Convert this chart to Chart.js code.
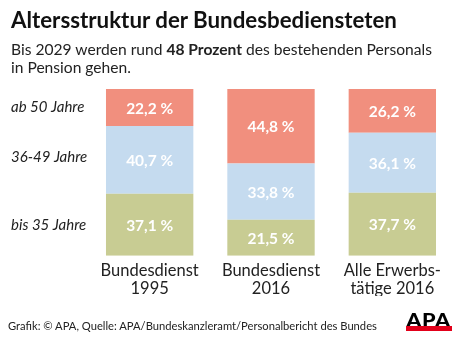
<!DOCTYPE html>
<html>
<head>
<meta charset="utf-8">
<script src="https://cdn.jsdelivr.net/npm/chart.js@4/dist/chart.umd.min.js"></script>
<style>
  body { margin: 0; background: #fff; font-family: Lato, "Open Sans", sans-serif; }
  #wrap { position: relative; width: 460px; height: 340px; overflow: hidden; }
  #chart { position: absolute; left: 0; top: 0; }
  .title { position: absolute; left: 11px; top: 6px; font-size: 22.3px; font-weight: bold; color: #111; white-space: nowrap; }
  .sub { position: absolute; left: 11px; top: 40px; font-size: 15.6px; line-height: 18px; color: #222; }
  .foot { position: absolute; left: 8px; top: 319px; font-size: 11.2px; color: #222; white-space: nowrap; }
  .logo { position: absolute; left: 406px; top: 311px; width: 46px; height: 15px; overflow: hidden; text-align: center; font-size: 18px; font-weight: 900; line-height: 18px; color: #000; letter-spacing: 0.5px; border-bottom: 5px solid #e2001a; }
  .logo span { display: inline-block; transform: scaleX(1.2); }
</style>
</head>
<body>
<div id="wrap">
  <canvas id="chart" width="460" height="340"></canvas>
  <div class="title">Altersstruktur der Bundesbediensteten</div>
  <div class="sub">Bis 2029 werden rund <b>48 Prozent</b> des bestehenden Personals<br>in Pension gehen.</div>
  <div class="foot">Grafik: © APA, Quelle: APA/Bundeskanzleramt/Personalbericht des Bundes</div>
  <div class="logo"><span>APA</span></div>
</div>
<script>
const categories = [["Bundesdienst", "1995"], ["Bundesdienst", "2016"], ["Alle Erwerbs-", "tätige 2016"]];
const groupNames = ["bis 35 Jahre", "36-49 Jahre", "ab 50 Jahre"];
const bis35 = [37.1, 21.5, 37.7];
const mid3649 = [40.7, 33.8, 36.1];
const ab50 = [22.2, 44.8, 26.2];
const colors = ["#c8cc93", "#c5dbef", "#f18f7e"];

// draws value labels in each segment + row labels left of the first bar
const labelPlugin = {
  id: "labels",
  afterDatasetsDraw(chart) {
    const ctx = chart.ctx;
    ctx.save();
    ctx.textBaseline = "middle";
    chart.data.datasets.forEach((ds, i) => {
      const meta = chart.getDatasetMeta(i);
      ctx.textAlign = "center";
      ctx.fillStyle = "#fff";
      ctx.font = "bold 15.5px Lato, 'Open Sans', sans-serif";
      meta.data.forEach((bar, j) => {
        const y = (bar.y + bar.base) / 2;
        ctx.fillText(ds.data[j].toFixed(1).replace(".", ",") + " %", bar.x, y + 1);
      });
      // row label
      const first = meta.data[0];
      ctx.fillStyle = "#222";
      ctx.textAlign = "left";
      ctx.font = "italic 15px Lato, 'Open Sans', sans-serif";
      ctx.fillText(ds.label, 11, (first.y + first.base) / 2 - (i == 1 ? 3 : 0));
    });
    ctx.restore();
  }
};

new Chart(document.getElementById("chart"), {
  type: "bar",
  data: {
    labels: categories,
    datasets: [
      { label: groupNames[0], data: bis35, backgroundColor: colors[0] },
      { label: groupNames[1], data: mid3649, backgroundColor: colors[1] },
      { label: groupNames[2], data: ab50, backgroundColor: colors[2] }
    ]
  },
  options: {
    responsive: false,
    animation: false,
    layout: { padding: { top: 89, left: 89, right: 7, bottom: 44 } },
    datasets: { bar: { categoryPercentage: 1, barPercentage: 0.72 } },
    plugins: { legend: { display: false }, tooltip: { enabled: false } },
    scales: {
      x: {
        stacked: true,
        grid: { display: false },
        border: { display: false },
        ticks: { color: "#222", padding: -2, font: { family: "Lato, 'Open Sans', sans-serif", size: 16.5, lineHeight: 1.1 } }
      },
      y: { stacked: true, display: false, min: 0, max: 100 }
    }
  },
  plugins: [labelPlugin]
});
</script>
</body>
</html>
